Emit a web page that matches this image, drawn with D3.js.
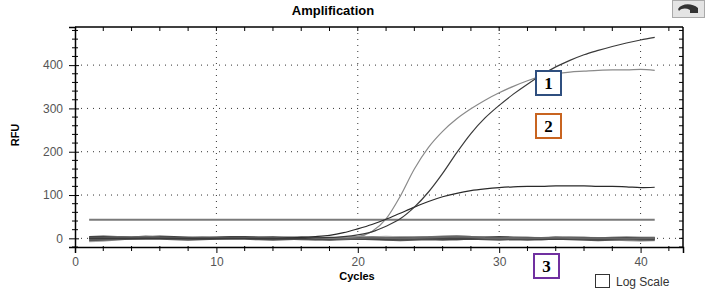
<!DOCTYPE html>
<html>
<head>
<meta charset="utf-8">
<script src="https://cdn.jsdelivr.net/npm/d3@7"></script>
<style>
  body { margin: 0; background: #fff; }
  svg { display: block; font-family: Arial, "Liberation Sans", sans-serif; }
</style>
</head>
<body>
<svg id="chart"></svg>
<script>
// cycles 1..41
const cycles = d3.range(1, 42);

// amplification curves (RFU per cycle)
const curveA = [0,0,0,0,0,0,0,0,0,0,0,0,0,0,0,0,1,2,4,8,15,28,45,72,107,150,198,242,278,307,333,356,377,396,411,424,434,443,451,458,464];
const curveB = [0,0,0,0,0,0,0,0,0,0,0,0,0,0,0,0,0,1,2,4,16,45,97,160,210,247,276,299,319,336,351,364,374,380,384,386,388,389,389,390,388];
const curveC = [0,0,0,0,0,0,0,0,0,0,0,0,0,0,1,2,4,7,13,22,32,44,58,72,85,96,104,110,114,117,119,120,120,121,121,121,120,120,119,117,118];

// flat (negative) wells
const base1 = [2,3,2,1,2,3,2,1,0,1,2,2,1,0,1,1,0,-1,0,1,0,-1,0,1,1,0,-1,0,1,2,1,0,-1,0,1,0,-1,0,1,0,0];
const base2 = [-3,-2,-1,0,1,0,-1,-2,-1,0,1,0,-1,-2,-1,0,-1,-2,-1,0,-1,-2,-3,-2,-1,-2,-1,0,-1,-2,-1,-2,-1,0,-1,-2,-3,-2,-1,-2,-2];
const base3 = [0,1,3,2,4,2,1,0,2,1,0,1,2,3,1,0,1,0,-1,0,2,1,0,1,2,3,4,3,1,0,1,0,1,2,1,0,1,0,-1,0,1];
const base4 = [-6,-5,-2,0,1,0,-1,0,1,0,0,1,0,-1,0,-2,-3,-1,0,1,2,3,2,1,2,4,5,3,2,1,0,1,0,-1,0,1,0,-2,-4,-5,-4];

const threshold = 43;
const xTicks = [0, 10, 20, 30, 40];
const yTicks = [0, 100, 200, 300, 400];

const width = 705, height = 290;
const margin = {top: 27, right: 22, bottom: 43, left: 75};

const svg = d3.select('#chart')
    .attr('width', width)
    .attr('height', height);

const innerW = width - margin.left - margin.right;
const innerH = height - margin.top - margin.bottom;

const xscale = d3.scaleLinear().domain([0, 43]).range([0, innerW]);
const yscale = d3.scaleLinear().domain([-20, 488]).range([innerH, 0]);

const chart = svg.append('g')
    .attr('transform', `translate(${margin.left}, ${margin.top})`);

// dotted grid
chart.append('g').selectAll('line')
    .data(yTicks)
    .join('line')
    .attr('x1', 0).attr('x2', innerW)
    .attr('y1', d => yscale(d)).attr('y2', d => yscale(d))
    .attr('stroke', '#333').attr('stroke-width', 1)
    .attr('stroke-dasharray', '1,5');

chart.append('g').selectAll('line')
    .data(xTicks.slice(1))
    .join('line')
    .attr('x1', d => xscale(d)).attr('x2', d => xscale(d))
    .attr('y1', 0).attr('y2', innerH)
    .attr('stroke', '#333').attr('stroke-width', 1)
    .attr('stroke-dasharray', '1,5');

// threshold
chart.append('line')
    .attr('x1', xscale(1)).attr('x2', xscale(41))
    .attr('y1', yscale(threshold)).attr('y2', yscale(threshold))
    .attr('stroke', '#7a7a7a').attr('stroke-width', 2);

const line = d3.line()
    .x((d, i) => xscale(cycles[i]))
    .y(d => yscale(d));

const smooth = d3.line()
    .x((d, i) => xscale(cycles[i]))
    .y(d => yscale(d))
    .curve(d3.curveMonotoneX);

// baseline traces
const bases = [
    {data: base4, color: '#aaa', w: 2.5},
    {data: base2, color: '#555', w: 3},
    {data: base1, color: '#444', w: 3},
    {data: base3, color: '#666', w: 2}
];
chart.selectAll('path.base')
    .data(bases)
    .join('path')
    .attr('class', 'base')
    .attr('fill', 'none')
    .attr('stroke', d => d.color)
    .attr('stroke-width', d => d.w)
    .attr('d', d => line(d.data));

const amps = [
    {data: curveB, color: '#8a8a8a', w: 1.2},
    {data: curveC, color: '#2a2a2a', w: 1.2},
    {data: curveA, color: '#3a3a3a', w: 1.2}
];
chart.selectAll('path.amp')
    .data(amps)
    .join('path')
    .attr('class', 'amp')
    .attr('fill', 'none')
    .attr('stroke', d => d.color)
    .attr('stroke-width', d => d.w)
    .attr('d', d => smooth(d.data));

// frame: top and right borders
chart.append('line')
    .attr('x1', 0).attr('x2', innerW).attr('y1', 0).attr('y2', 0)
    .attr('stroke', '#000').attr('stroke-width', 1.5);
chart.append('line')
    .attr('x1', innerW).attr('x2', innerW).attr('y1', 0).attr('y2', innerH)
    .attr('stroke', '#000').attr('stroke-width', 1.5);

// top/right minor ticks pointing inward
chart.append('g').selectAll('line')
    .data(d3.range(2, 43, 2))
    .join('line')
    .attr('x1', d => xscale(d)).attr('x2', d => xscale(d))
    .attr('y1', 0).attr('y2', 4)
    .attr('stroke', '#000');
chart.append('g').selectAll('line')
    .data(d3.range(-20, 481, 20))
    .join('line')
    .attr('x1', innerW - 4).attr('x2', innerW)
    .attr('y1', d => yscale(d)).attr('y2', d => yscale(d))
    .attr('stroke', '#000');

// bottom axis
const xaxis = d3.axisBottom(xscale)
    .tickValues(xTicks)
    .tickSize(6)
    .tickPadding(4);
const xg = chart.append('g')
    .attr('transform', `translate(0, ${innerH})`)
    .call(xaxis);
xg.selectAll('line.minor')
    .data(d3.range(2, 43, 2).filter(d => d % 10 !== 0))
    .join('line')
    .attr('class', 'minor')
    .attr('x1', d => xscale(d)).attr('x2', d => xscale(d))
    .attr('y1', -1).attr('y2', 4)
    .attr('stroke', '#000');

// left axis
const yaxis = d3.axisLeft(yscale)
    .tickValues(yTicks)
    .tickSize(6)
    .tickPadding(6);
const yg = chart.append('g').call(yaxis);
yg.selectAll('line.minor')
    .data(d3.range(-20, 481, 20).filter(d => d % 100 !== 0))
    .join('line')
    .attr('class', 'minor')
    .attr('x1', -3).attr('x2', 3)
    .attr('y1', d => yscale(d)).attr('y2', d => yscale(d))
    .attr('stroke', '#000');
yg.selectAll('.tick line').attr('x2', 4).attr('x1', -6);

[xg, yg].forEach(g => {
    g.select('.domain').attr('stroke', '#000').attr('stroke-width', 1.5);
    g.selectAll('.tick text')
        .attr('fill', '#555')
        .style('font-size', '12px')
        .style('font-family', 'Arial, "Liberation Sans", sans-serif');
});

// titles
svg.append('text')
    .attr('x', 333).attr('y', 15)
    .attr('text-anchor', 'middle')
    .style('font-size', '13px').style('font-weight', 'bold')
    .text('Amplification');

svg.append('text')
    .attr('x', 357).attr('y', 280)
    .attr('text-anchor', 'middle')
    .style('font-size', '11px').style('font-weight', 'bold')
    .text('Cycles');

svg.append('text')
    .attr('transform', 'rotate(-90)')
    .attr('x', -135).attr('y', 19)
    .attr('text-anchor', 'middle')
    .style('font-size', '11px').style('font-weight', 'bold')
    .text('RFU');

// numbered boxes
const marks = [
    {label: '1', x: 536, y: 71, color: '#2f4f7f'},
    {label: '2', x: 536, y: 114, color: '#c86420'},
    {label: '3', x: 534, y: 254, color: '#7030a0'}
];
const mk = svg.selectAll('g.mark')
    .data(marks)
    .join('g')
    .attr('class', 'mark')
    .attr('transform', d => `translate(${d.x}, ${d.y})`);
mk.append('rect')
    .attr('width', 25).attr('height', 24)
    .attr('fill', '#fff')
    .attr('stroke', d => d.color).attr('stroke-width', 2);
mk.append('text')
    .attr('x', 12.5).attr('y', 18)
    .attr('text-anchor', 'middle')
    .style('font-family', '"Liberation Serif", "Times New Roman", serif')
    .style('font-size', '17px').style('font-weight', 'bold')
    .text(d => d.label);

// log scale checkbox
svg.append('rect')
    .attr('x', 595.5).attr('y', 274.5)
    .attr('width', 14).attr('height', 13)
    .attr('fill', '#fff').attr('stroke', '#333');
svg.append('text')
    .attr('x', 616).attr('y', 286)
    .style('font-size', '12px').attr('fill', '#333')
    .text('Log Scale');

// corner button
const btn = svg.append('g').attr('transform', 'translate(672, 0)');
btn.append('rect')
    .attr('x', 0.5).attr('y', 0.5).attr('width', 32).attr('height', 17)
    .attr('fill', '#e4e4e4').attr('stroke', '#aaa');
btn.append('path')
    .attr('d', 'M6,9 C10,3 20,3 26,8 L26,13 L18,13 L18,10 C14,8 10,8 7,11 Z')
    .attr('fill', '#333');
</script>
</body>
</html>
